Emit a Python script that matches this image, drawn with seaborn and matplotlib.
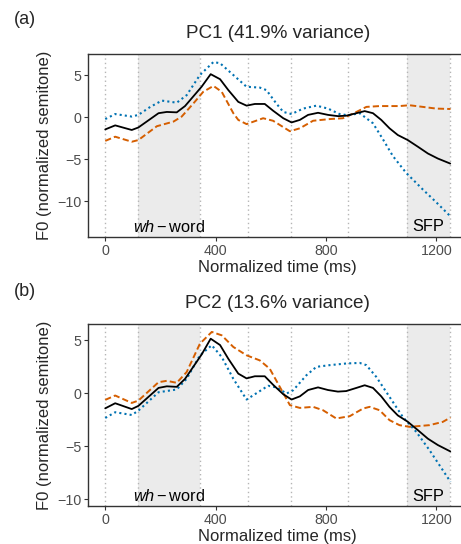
"""
PC1 / PC2 F0 contours: mean curve and mean +/- PC
"""

import numpy as np
import pandas as pd
import matplotlib
matplotlib.use("Agg")
import matplotlib.pyplot as plt
import matplotlib.transforms as mtransforms
import seaborn as sns

# ============================================================================
# 1. DATA
# ============================================================================

mean_t = [0, 36, 96, 120, 193, 223, 259, 289, 349, 382, 416, 446, 482, 512, 542, 578,
          608, 645, 675, 705, 735, 771, 807, 843, 873, 910, 940, 970, 1000, 1030,
          1060, 1096, 1133, 1169, 1205, 1250]
mean_f0 = [-1.43, -0.95, -1.5, -1.2, 0.5, 0.65, 0.6, 1.35, 3.65, 5.15, 4.55, 3.25, 1.85,
           1.4, 1.6, 1.6, 0.8, -0.1, -0.6, -0.3, 0.3, 0.55, 0.3, 0.15, 0.2, 0.5, 0.75,
           0.5, -0.3, -1.3, -2.1, -2.7, -3.5, -4.3, -4.9, -5.5]

# PC1: mean + PC (blue, dotted) and mean - PC (orange, dashed)
pc1_plus_t = [0, 36, 96, 120, 163, 205, 259, 295, 343, 392, 416, 464, 512, 560, 584, 620,
              645, 675, 717, 765, 807, 849, 880, 922, 970, 1006, 1042, 1090, 1151, 1199, 1251]
pc1_plus_f0 = [-0.2, 0.4, 0.1, 0.3, 1.25, 2.0, 1.75, 2.65, 5.05, 6.6, 6.45, 5.05, 3.65,
               3.55, 3.25, 1.65, 0.65, 0.4, 1.05, 1.4, 1.05, 0.4, 0.25, 0.5, -0.7, -2.6,
               -4.6, -6.6, -8.6, -10.1, -11.8]
pc1_minus_t = [0, 36, 96, 120, 187, 247, 277, 319, 355, 392, 422, 464, 482, 512, 572, 608,
               669, 705, 753, 813, 861, 898, 946, 994, 1066, 1102, 1151, 1199, 1251]
pc1_minus_f0 = [-2.8, -2.3, -2.9, -2.7, -1.05, -0.5, 0.1, 1.65, 3.05, 3.75, 3.05, 0.5,
                -0.3, -0.8, -0.1, -0.4, -1.65, -1.3, -0.4, -0.2, -0.1, 0.45, 1.25, 1.35,
                1.35, 1.45, 1.25, 1.05, 1.0]

# PC2
pc2_plus_t = [0, 36, 96, 120, 193, 259, 295, 343, 386, 422, 464, 512, 548, 590, 620, 657,
              681, 729, 765, 813, 874, 922, 946, 982, 1030, 1078, 1127, 1175, 1223, 1251]
pc2_plus_f0 = [-2.34, -1.8, -2.06, -1.65, 0.09, 0.35, 1.36, 3.58, 4.53, 3.42, 1.36, -0.6,
               0.0, 0.7, 0.55, -0.03, 0.28, 1.7, 2.49, 2.65, 2.81, 2.86, 2.65, 1.54, -0.35,
               -2.24, -3.66, -5.39, -7.28, -8.38]
pc2_minus_t = [0, 36, 96, 120, 193, 223, 259, 295, 343, 386, 422, 464, 512, 560, 596, 633,
               669, 705, 753, 789, 837, 886, 934, 958, 994, 1030, 1066, 1102, 1175, 1223, 1251]
pc2_minus_f0 = [-0.63, -0.22, -0.92, -0.7, 1.04, 1.17, 0.98, 2.0, 4.68, 5.79, 5.47, 4.37,
                3.58, 3.1, 2.31, 0.57, -1.13, -1.39, -1.29, -1.61, -2.39, -2.17, -1.45,
                -1.29, -1.61, -2.55, -3.02, -3.18, -3.02, -2.71, -2.3]

boundaries = [0, 118, 343, 518, 672, 880, 1092, 1250]
shaded = [(118, 343), (1092, 1250)]
x_ticks = [0, 400, 800, 1200]
y_ticks = [-10, -5, 0, 5]

panels = [
    {'tag': '(a)', 'title': 'PC1 (41.9% variance)',
     'plus': (pc1_plus_t, pc1_plus_f0), 'minus': (pc1_minus_t, pc1_minus_f0),
     'ylim': (-14.25, 7.55), 'rect': [0.1909, 0.5643, 0.8232, 0.3364], 'tag_y': 0.964},
    {'tag': '(b)', 'title': 'PC2 (13.6% variance)',
     'plus': (pc2_plus_t, pc2_plus_f0), 'minus': (pc2_minus_t, pc2_minus_f0),
     'ylim': (-10.69, 6.57), 'rect': [0.1909, 0.0693, 0.8232, 0.3357], 'tag_y': 0.465},
]

# ============================================================================
# 2. STYLE
# ============================================================================

sns.set_theme(style='white')
plt.rcParams['font.family'] = ['Liberation Sans', 'DejaVu Sans']
plt.rcParams['mathtext.fontset'] = 'custom'
plt.rcParams['mathtext.rm'] = 'Liberation Sans'
plt.rcParams['mathtext.it'] = 'Liberation Sans:italic'

BLUE = '#0072B2'
ORANGE = '#D55E00'
GREY_TXT = '#4D4D4D'

fig = plt.figure(figsize=(4.61, 5.44), dpi=100)

for p in panels:
    ax = fig.add_axes(p['rect'])
    ax.set_xlim(-62.5, 1312.5)
    ax.set_ylim(*p['ylim'])

    for a, b in shaded:
        ax.axvspan(a, b, color='#EBEBEB', lw=0, zorder=0)
    for b in boundaries:
        ax.axvline(b, color='#B5B5B5', lw=1.0, ls=(0, (1, 2.2)), zorder=1)

    df_plus = pd.DataFrame({'t': p['plus'][0], 'f0': p['plus'][1]})
    df_minus = pd.DataFrame({'t': p['minus'][0], 'f0': p['minus'][1]})
    df_mean = pd.DataFrame({'t': mean_t, 'f0': mean_f0})

    sns.lineplot(data=df_minus, x='t', y='f0', ax=ax, color=ORANGE, lw=1.4,
                 estimator=None, zorder=3).lines[-1].set_dashes((3.2, 1.6))
    sns.lineplot(data=df_plus, x='t', y='f0', ax=ax, color=BLUE, lw=1.5,
                 estimator=None, zorder=3).lines[-1].set_dashes((1.0, 1.5))
    sns.lineplot(data=df_mean, x='t', y='f0', ax=ax, color='black', lw=1.3,
                 estimator=None, zorder=4)

    ax.set_xticks(x_ticks)
    ax.set_yticks(y_ticks)
    ax.set_yticklabels(['\u221210', '\u22125', '0', '5'])
    ax.tick_params(axis='both', labelsize=10.3, labelcolor=GREY_TXT, color='#333333',
                   length=3, width=0.8, pad=2, bottom=True, left=True)
    for s in ax.spines.values():
        s.set_color('#333333')
        s.set_linewidth(1.0)
    ax.set_xlabel('')
    ax.set_ylabel('')

    trans = mtransforms.blended_transform_factory(ax.transData, ax.transAxes)
    ax.text(230, 0.055, r'$\mathit{wh}-\mathrm{word}$', transform=trans,
            ha='center', va='center', fontsize=11.8, color='black')
    ax.text(1171, 0.055, 'SFP', transform=trans, ha='center', va='center',
            fontsize=11.8, color='black')

    ax.text(0.5, 1.11, p['title'], transform=ax.transAxes, ha='center', va='center',
            fontsize=13.6)
    ax.text(0.5, -0.168, 'Normalized time (ms)', transform=ax.transAxes,
            ha='center', va='center', fontsize=12)
    fig.text(45 / 461, p['rect'][1] + p['rect'][3] / 2, 'F0 (normalized semitone)',
             rotation=90, ha='center', va='center', fontsize=12)
    fig.text(14 / 461, p['tag_y'], p['tag'], ha='left', va='center', fontsize=13)

plt.savefig('out.png', dpi=100)
plt.close()
